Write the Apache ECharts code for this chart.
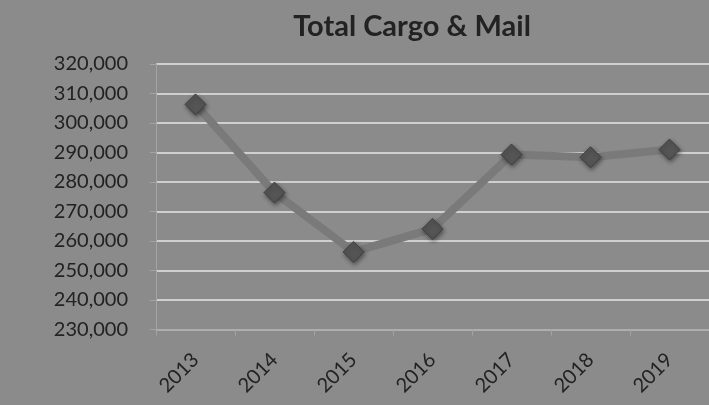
<!DOCTYPE html>
<html>
<head>
<meta charset="utf-8">
<script src="https://cdn.jsdelivr.net/npm/echarts@6/dist/echarts.min.js"></script>
<style>
html,body{margin:0;padding:0;background:#8b8b8c;}
#chart{width:709px;height:405px;}
</style>
</head>
<body>
<div id="chart"></div>
<script>
var titleText = 'Total Cargo & Mail';
var categories = ['2013', '2014', '2015', '2016', '2017', '2018', '2019'];
var values = [306300, 276400, 256300, 264100, 289300, 288400, 291000];
var yMin = 230000;
var yMax = 320000;
var yStep = 10000;

var chart = echarts.init(document.getElementById('chart'), null, {renderer: 'canvas'});
chart.setOption({
  backgroundColor: '#8b8b8c',
  animation: false,
  title: {
    text: titleText,
    left: 407,
    top: 7,
    textAlign: 'center',
    textStyle: {fontFamily: 'Lato', fontWeight: 'bold', fontSize: 29, color: '#222222'}
  },
  grid: {left: 156, top: 64, bottom: 75.5, width: 554.4, containLabel: false},
  xAxis: {
    type: 'category',
    data: categories,
    boundaryGap: true,
    axisLine: {lineStyle: {color: '#a4a4a5', width: 1.5}},
    axisTick: {show: true, length: 6, lineStyle: {color: '#a4a4a5', width: 1}},
    axisLabel: {rotate: 45, margin: 27, fontFamily: 'Lato', fontSize: 20, color: '#222222'},
    splitLine: {show: false}
  },
  yAxis: {
    type: 'value',
    min: yMin,
    max: yMax,
    interval: yStep,
    axisLine: {show: true, lineStyle: {color: '#a4a4a5', width: 1}},
    axisTick: {show: true, length: 6, lineStyle: {color: '#a4a4a5', width: 1}},
    axisLabel: {
      margin: 28,
      fontFamily: 'Lato', fontSize: 20, color: '#222222',
      formatter: function (v) { return v.toLocaleString('en-US'); }
    },
    splitLine: {show: true, lineStyle: {color: '#e6e6e6', width: 1.5}}
  },
  series: [{
    type: 'line',
    data: values,
    symbol: 'diamond',
    symbolSize: 21,
    lineStyle: {color: '#7a7a7b', width: 8},
    itemStyle: {
      color: '#555556',
      borderColor: '#404040',
      borderWidth: 1,
      shadowBlur: 4,
      shadowColor: 'rgba(0,0,0,0.45)',
      shadowOffsetX: 1,
      shadowOffsetY: 2
    },
    z: 3
  }]
});
</script>
</body>
</html>
